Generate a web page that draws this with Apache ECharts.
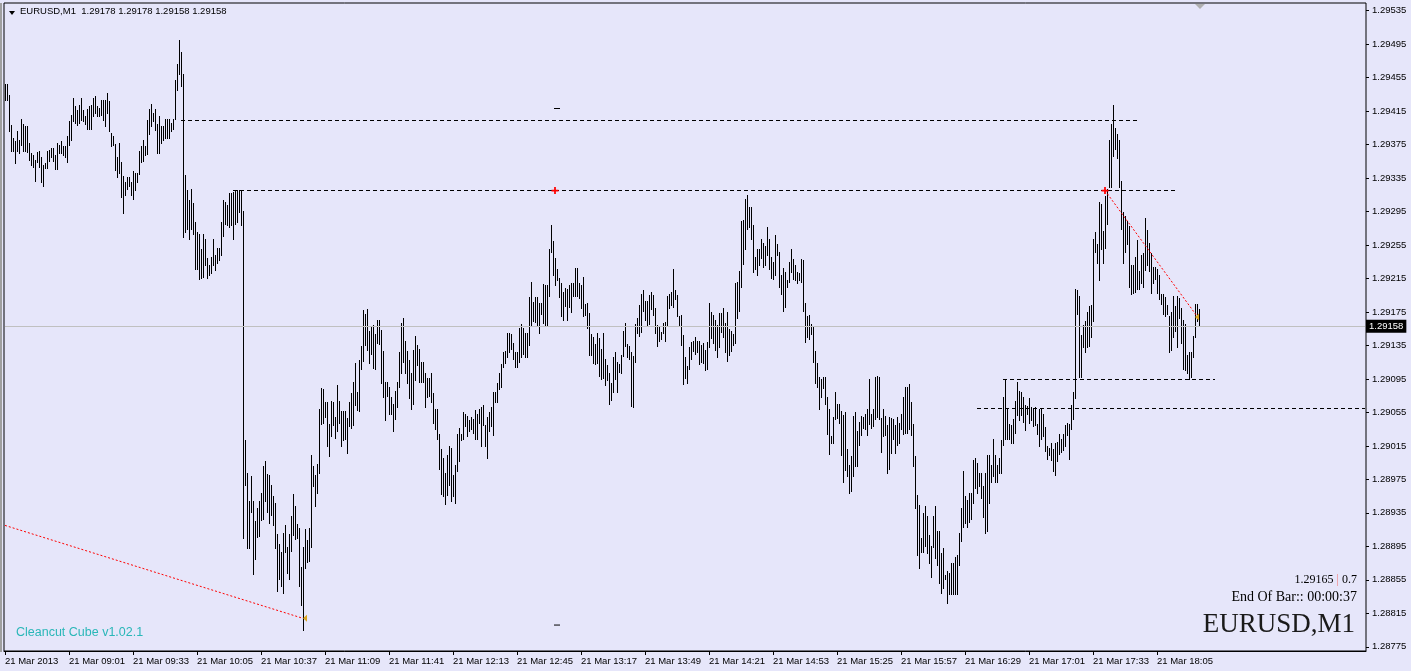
<!DOCTYPE html>
<html>
<head>
<meta charset="utf-8">
<title>EURUSD,M1</title>
<script src="https://cdn.jsdelivr.net/npm/echarts@6/dist/echarts.min.js"></script>
<style>
  html, body { margin: 0; padding: 0; background: #e6e6fa; }
  #chart { width: 1411px; height: 671px; }
</style>
</head>
<body>
<div id="chart"></div>
<script>
// one bar per minute, 21 Mar 2013 from 08:29
const highs = [
  1.29447,1.29447,1.29433,1.29398,1.29382,1.29379,1.29390,1.29380,1.29405,1.29399,1.29397,1.29397,1.29376,1.29364,1.29362,1.29356,1.29366,1.29367,1.29360,1.29350,
  1.29352,1.29367,1.29368,1.29370,1.29370,1.29362,1.29376,1.29374,1.29378,1.29372,1.29372,1.29384,1.29402,1.29410,1.29430,1.29420,1.29416,1.29422,1.29430,1.29416,
  1.29408,1.29417,1.29420,1.29421,1.29430,1.29432,1.29420,1.29418,1.29428,1.29428,1.29428,1.29436,1.29426,1.29388,1.29385,1.29375,1.29360,1.29376,1.29354,1.29337,
  1.29330,1.29336,1.29336,1.29330,1.29343,1.29340,1.29340,1.29367,1.29372,1.29380,1.29372,1.29404,1.29417,1.29423,1.29412,1.29417,1.29399,1.29408,1.29396,1.29397,
  1.29405,1.29405,1.29405,1.29400,1.29405,1.29452,1.29471,1.29499,1.29485,1.29459,1.29338,1.29320,1.29308,1.29321,1.29304,1.29282,1.29270,1.29268,1.29250,1.29267,
  1.29262,1.29239,1.29231,1.29240,1.29261,1.29243,1.29251,1.29251,1.29282,1.29308,1.29306,1.29302,1.29316,1.29316,1.29318,1.29320,1.29320,1.29320,1.29320,1.29295,
  1.29021,1.28982,1.28949,1.28979,1.28948,1.28925,1.28940,1.28949,1.28958,1.28990,1.28996,1.28981,1.28980,1.28968,1.28954,1.28946,1.28909,1.28897,1.28888,1.28910,
  1.28920,1.28894,1.28909,1.28931,1.28957,1.28943,1.28921,1.28916,1.28870,1.28894,1.28915,1.28902,1.28916,1.29003,1.28990,1.28980,1.28993,1.29059,1.29083,1.29082,
  1.29067,1.29067,1.29041,1.29068,1.29067,1.29049,1.29087,1.29068,1.29056,1.29056,1.29056,1.29048,1.29067,1.29077,1.29091,1.29113,1.29079,1.29117,1.29134,1.29177,
  1.29172,1.29178,1.29152,1.29157,1.29159,1.29148,1.29165,1.29165,1.29153,1.29128,1.29091,1.29091,1.29085,1.29073,1.29065,1.29080,1.29091,1.29127,1.29161,1.29167,
  1.29140,1.29128,1.29117,1.29101,1.29129,1.29146,1.29135,1.29130,1.29115,1.29115,1.29101,1.29096,1.29096,1.29101,1.29077,1.29059,1.29058,1.29029,1.29011,1.29000,
  1.28982,1.29004,1.29014,1.29012,1.28980,1.28992,1.29029,1.29036,1.29029,1.29055,1.29053,1.29050,1.29045,1.29049,1.29047,1.29057,1.29052,1.29059,1.29061,1.29063,
  1.29039,1.29049,1.29055,1.29061,1.29079,1.29079,1.29089,1.29101,1.29112,1.29126,1.29128,1.29149,1.29149,1.29148,1.29137,1.29126,1.29126,1.29155,1.29160,1.29155,
  1.29149,1.29149,1.29192,1.29210,1.29186,1.29192,1.29192,1.29185,1.29185,1.29208,1.29207,1.29207,1.29250,1.29278,1.29259,1.29239,1.29226,1.29215,1.29209,1.29198,
  1.29203,1.29202,1.29207,1.29209,1.29209,1.29227,1.29227,1.29209,1.29206,1.29216,1.29184,1.29185,1.29173,1.29148,1.29144,1.29136,1.29149,1.29143,1.29130,1.29149,
  1.29118,1.29111,1.29101,1.29089,1.29121,1.29126,1.29115,1.29112,1.29123,1.29152,1.29161,1.29136,1.29134,1.29126,1.29122,1.29160,1.29167,1.29183,1.29196,1.29201,
  1.29187,1.29187,1.29195,1.29198,1.29195,1.29179,1.29159,1.29158,1.29151,1.29161,1.29162,1.29194,1.29196,1.29198,1.29226,1.29201,1.29195,1.29170,1.29171,1.29147,
  1.29120,1.29110,1.29133,1.29139,1.29140,1.29144,1.29140,1.29140,1.29135,1.29137,1.29129,1.29139,1.29185,1.29174,1.29171,1.29165,1.29159,1.29173,1.29173,1.29179,
  1.29161,1.29174,1.29154,1.29152,1.29148,1.29209,1.29210,1.29223,1.29283,1.29284,1.29309,1.29314,1.29300,1.29300,1.29278,1.29240,1.29250,1.29249,1.29262,1.29257,
  1.29253,1.29276,1.29262,1.29240,1.29234,1.29266,1.29256,1.29246,1.29219,1.29227,1.29222,1.29212,1.29234,1.29249,1.29238,1.29231,1.29222,1.29221,1.29238,1.29237,
  1.29185,1.29170,1.29171,1.29160,1.29158,1.29128,1.29113,1.29097,1.29094,1.29097,1.29097,1.29073,1.29059,1.29026,1.29049,1.29079,1.29065,1.29065,1.29056,1.29051,
  1.29055,1.29011,1.28992,1.29002,1.29050,1.29055,1.29032,1.29043,1.29050,1.29049,1.29053,1.29058,1.29094,1.29053,1.29059,1.29097,1.29098,1.29097,1.29048,1.29058,
  1.29050,1.29039,1.29049,1.29048,1.29047,1.29039,1.29049,1.29042,1.29053,1.29073,1.29085,1.29085,1.29088,1.29067,1.29041,1.29002,1.28956,1.28944,1.28904,1.28934,
  1.28943,1.28931,1.28908,1.28895,1.28931,1.28943,1.28913,1.28913,1.28886,1.28892,1.28860,1.28865,1.28862,1.28874,1.28874,1.28882,1.28884,1.28910,1.28940,1.28985,
  1.28955,1.28950,1.28958,1.28958,1.28998,1.29000,1.28994,1.28982,1.28982,1.28967,1.28982,1.29003,1.29003,1.28992,1.29023,1.29004,1.28992,1.29000,1.29021,1.29073,
  1.29094,1.29058,1.29040,1.29039,1.29047,1.29068,1.29091,1.29080,1.29079,1.29073,1.29063,1.29062,1.29072,1.29061,1.29058,1.29061,1.29040,1.29058,1.29059,1.29053,
  1.29037,1.29014,1.29012,1.29018,1.29011,1.29018,1.29019,1.29029,1.29023,1.29029,1.29039,1.29042,1.29040,1.29063,1.29079,1.29202,1.29201,1.29194,1.29147,1.29159,
  1.29164,1.29174,1.29181,1.29183,1.29261,1.29270,1.29256,1.29306,1.29303,1.29271,1.29313,1.29321,1.29380,1.29399,1.29422,1.29394,1.29387,1.29380,1.29331,1.29294,
  1.29289,1.29283,1.29277,1.29231,1.29231,1.29240,1.29260,1.29223,1.29242,1.29245,1.29287,1.29272,1.29257,1.29245,1.29228,1.29228,1.29226,1.29219,1.29196,1.29196,
  1.29192,1.29183,1.29169,1.29174,1.29194,1.29181,1.29194,1.29191,1.29179,1.29165,1.29160,1.29123,1.29126,1.29126,1.29146,1.29184,1.29184,1.29178
];
const lows = [
  1.29428,1.29428,1.29390,1.29367,1.29367,1.29352,1.29367,1.29364,1.29374,1.29367,1.29367,1.29366,1.29356,1.29350,1.29348,1.29331,1.29354,1.29348,1.29330,1.29325,
  1.29346,1.29346,1.29355,1.29360,1.29355,1.29345,1.29345,1.29364,1.29364,1.29362,1.29360,1.29354,1.29374,1.29380,1.29402,1.29400,1.29398,1.29400,1.29404,1.29402,
  1.29399,1.29393,1.29393,1.29393,1.29408,1.29412,1.29408,1.29408,1.29410,1.29404,1.29396,1.29412,1.29390,1.29373,1.29374,1.29344,1.29336,1.29340,1.29312,1.29292,
  1.29314,1.29321,1.29325,1.29314,1.29309,1.29320,1.29330,1.29339,1.29354,1.29355,1.29362,1.29363,1.29387,1.29396,1.29402,1.29392,1.29364,1.29364,1.29376,1.29380,
  1.29382,1.29382,1.29382,1.29390,1.29393,1.29405,1.29440,1.29458,1.29444,1.29264,1.29270,1.29274,1.29261,1.29273,1.29268,1.29226,1.29226,1.29214,1.29215,1.29216,
  1.29231,1.29215,1.29219,1.29221,1.29230,1.29225,1.29233,1.29236,1.29242,1.29265,1.29280,1.29278,1.29276,1.29278,1.29261,1.29280,1.29282,1.29294,1.29278,1.28904,
  1.28968,1.28892,1.28892,1.28936,1.28861,1.28879,1.28906,1.28907,1.28926,1.28927,1.28948,1.28936,1.28922,1.28932,1.28920,1.28892,1.28841,1.28855,1.28847,1.28839,
  1.28888,1.28862,1.28855,1.28889,1.28908,1.28903,1.28904,1.28847,1.28824,1.28795,1.28868,1.28876,1.28877,1.28894,1.28966,1.28943,1.28958,1.28982,1.29040,1.29042,
  1.29049,1.29014,1.29002,1.29026,1.29039,1.29024,1.29032,1.29042,1.29014,1.29022,1.29023,1.29006,1.29038,1.29036,1.29039,1.29063,1.29057,1.29056,1.29106,1.29116,
  1.29135,1.29129,1.29113,1.29124,1.29107,1.29106,1.29137,1.29136,1.29089,1.29073,1.29045,1.29074,1.29053,1.29052,1.29032,1.29047,1.29061,1.29085,1.29101,1.29115,
  1.29101,1.29089,1.29072,1.29058,1.29065,1.29093,1.29111,1.29091,1.29091,1.29091,1.29061,1.29073,1.29074,1.29067,1.29042,1.29035,1.29023,1.28987,1.28957,1.28954,
  1.28945,1.28956,1.28968,1.28948,1.28955,1.28946,1.28984,1.28996,1.29022,1.29023,1.29038,1.29026,1.29032,1.29034,1.29030,1.29023,1.29023,1.29042,1.29014,1.29039,
  1.29014,1.29000,1.29032,1.29038,1.29027,1.29067,1.29067,1.29082,1.29085,1.29109,1.29113,1.29120,1.29126,1.29130,1.29118,1.29109,1.29109,1.29115,1.29121,1.29124,
  1.29120,1.29120,1.29135,1.29159,1.29164,1.29162,1.29158,1.29149,1.29172,1.29161,1.29157,1.29157,1.29194,1.29246,1.29218,1.29207,1.29213,1.29192,1.29170,1.29165,
  1.29181,1.29165,1.29180,1.29174,1.29194,1.29194,1.29194,1.29191,1.29179,1.29169,1.29171,1.29155,1.29123,1.29123,1.29113,1.29112,1.29113,1.29098,1.29094,1.29096,
  1.29087,1.29093,1.29065,1.29069,1.29079,1.29094,1.29079,1.29103,1.29101,1.29122,1.29134,1.29121,1.29118,1.29062,1.29061,1.29115,1.29149,1.29146,1.29151,1.29176,
  1.29165,1.29159,1.29160,1.29178,1.29171,1.29149,1.29134,1.29140,1.29142,1.29149,1.29140,1.29159,1.29179,1.29183,1.29180,1.29190,1.29170,1.29158,1.29135,1.29088,
  1.29096,1.29089,1.29106,1.29118,1.29128,1.29124,1.29127,1.29112,1.29115,1.29113,1.29105,1.29106,1.29132,1.29143,1.29137,1.29129,1.29121,1.29133,1.29151,1.29144,
  1.29126,1.29116,1.29123,1.29128,1.29135,1.29137,1.29167,1.29176,1.29204,1.29232,1.29250,1.29274,1.29276,1.29262,1.29222,1.29226,1.29219,1.29230,1.29239,1.29228,
  1.29231,1.29243,1.29226,1.29215,1.29214,1.29219,1.29243,1.29204,1.29196,1.29176,1.29180,1.29204,1.29210,1.29222,1.29214,1.29213,1.29209,1.29213,1.29210,1.29176,
  1.29139,1.29144,1.29142,1.29148,1.29115,1.29089,1.29085,1.29059,1.29073,1.29083,1.29065,1.29029,1.29005,1.29018,1.29018,1.29047,1.29048,1.29042,1.29003,1.28971,
  1.28986,1.28979,1.28958,1.28960,1.28979,1.28990,1.28990,1.29016,1.29027,1.29036,1.29035,1.29027,1.29040,1.29036,1.29038,1.29047,1.29049,1.29047,1.29007,1.29026,
  1.29027,1.28982,1.28987,1.29006,1.29023,1.29006,1.29015,1.29018,1.29035,1.29028,1.29030,1.29030,1.29035,1.29027,1.28990,1.28940,1.28884,1.28868,1.28888,1.28888,
  1.28895,1.28886,1.28874,1.28858,1.28894,1.28880,1.28872,1.28851,1.28839,1.28845,1.28856,1.28827,1.28837,1.28837,1.28837,1.28838,1.28837,1.28872,1.28901,1.28918,
  1.28922,1.28918,1.28924,1.28927,1.28946,1.28964,1.28958,1.28966,1.28952,1.28930,1.28910,1.28913,1.28946,1.28971,1.28979,1.28971,1.28971,1.28982,1.28982,1.29015,
  1.29023,1.29023,1.29023,1.29018,1.29018,1.29030,1.29051,1.29045,1.29051,1.29043,1.29033,1.29052,1.29042,1.29045,1.29038,1.29039,1.29029,1.29014,1.29023,1.29026,
  1.29008,1.28999,1.29003,1.28997,1.28984,1.28980,1.28996,1.29005,1.29007,1.29010,1.29014,1.29027,1.28999,1.29034,1.29046,1.29072,1.29172,1.29097,1.29097,1.29133,
  1.29127,1.29132,1.29134,1.29144,1.29164,1.29246,1.29233,1.29213,1.29250,1.29233,1.29251,1.29280,1.29324,1.29324,1.29361,1.29369,1.29358,1.29324,1.29273,1.29233,
  1.29246,1.29255,1.29204,1.29196,1.29197,1.29198,1.29202,1.29202,1.29209,1.29204,1.29225,1.29230,1.29223,1.29197,1.29209,1.29214,1.29197,1.29190,1.29184,1.29172,
  1.29170,1.29172,1.29127,1.29129,1.29144,1.29152,1.29133,1.29167,1.29137,1.29106,1.29105,1.29101,1.29094,1.29097,1.29120,1.29144,1.29164,1.29158
];

const yTicks = [
  1.28775, 1.28815, 1.28855, 1.28895, 1.28935, 1.28975, 1.29015, 1.29055, 1.29095, 1.29135,
  1.29175, 1.29215, 1.29255, 1.29295, 1.29335, 1.29375, 1.29415, 1.29455, 1.29495, 1.29535
];
const lastPrice = 1.29158;
const ohlc = [1.29178, 1.29178, 1.29158, 1.29158];

// horizontal levels: price, first and last bar index
const levelPrices = [1.29404, 1.29320, 1.29094, 1.29060];
const levelFrom = [87.5, 113.5, 498.5, 486];
const levelTo = [565.5, 586, 605, 680];

// red trend lines: [startIndex, startPrice, endIndex, endPrice]
const trends = [
  [-0.5, 1.28920, 149, 1.28809],
  [550, 1.29320, 596, 1.29170]
];
const arrowPoints = [[150.2, 1.28809], [596.3, 1.29169]];
const crossPoints = [[275, 1.29320], [550, 1.29320]];
const dashPoints = [[276, 1.29418], [276, 1.28801]];

// time slots: 08:29 onwards, the axis runs past the last bar
const slotCount = 681;
const startMinute = 8 * 60 + 29;
const times = [];
for (let i = 0; i < slotCount; i++) {
  const m = startMinute + i;
  const hh = String(Math.floor(m / 60)).padStart(2, '0');
  const mm = String(m % 60).padStart(2, '0');
  times.push(i === 0 ? '21 Mar 2013' : '21 Mar ' + hh + ':' + mm);
}

const chart = echarts.init(document.getElementById('chart'));
const sans = 'Liberation Sans, Arial, sans-serif';
const serif = 'Liberation Serif, Times New Roman, serif';
const showSlot = (idx) => idx % 32 === 0 && idx < highs.length;

const lineData = [];
// current price line with its black tag on the price scale
lineData.push([
  {
    coord: [0, lastPrice],
    lineStyle: { color: '#c0c0c0', type: 'solid', width: 1 },
    label: {
      show: true,
      position: 'end',
      distance: 1,
      formatter: () => lastPrice.toFixed(5),
      backgroundColor: '#000',
      color: '#fff',
      fontFamily: sans,
      fontSize: 9.5,
      padding: [2, 3, 1, 3]
    }
  },
  { coord: [slotCount - 1, lastPrice] }
]);
levelPrices.forEach((p, k) => {
  lineData.push([
    { coord: [levelFrom[k], p], lineStyle: { color: '#000', type: [4, 3], width: 1 } },
    { coord: [levelTo[k], p] }
  ]);
});
trends.forEach(t => {
  lineData.push([
    { coord: [t[0], t[1]], lineStyle: { color: '#ff0000', type: [2, 2], width: 1 } },
    { coord: [t[2], t[3]] }
  ]);
});

const pointData = [];
arrowPoints.forEach(p => pointData.push({
  coord: p, symbol: 'triangle', symbolRotate: 90, symbolSize: [7, 4],
  itemStyle: { color: '#daa520' }
}));
crossPoints.forEach(p => pointData.push({
  coord: p, symbol: 'path://M3,0H5V3H8V5H5V8H3V5H0V3H3Z', symbolSize: 7,
  itemStyle: { color: '#ff0000' }
}));
dashPoints.forEach(p => pointData.push({
  coord: p, symbol: 'rect', symbolSize: [6, 1],
  itemStyle: { color: '#000' }
}));

const option = {
  backgroundColor: '#e6e6fa',
  animation: false,
  title: {
    text: 'EURUSD,M1  ' + ohlc.map(v => v.toFixed(5)).join(' '),
    left: 20,
    top: 6,
    padding: 0,
    textStyle: { fontFamily: sans, fontSize: 9.5, fontWeight: 'normal', color: '#000' }
  },
  grid: {
    left: 4,
    right: 45,
    top: 3,
    bottom: 20,
    show: true,
    borderColor: '#000',
    borderWidth: 1,
    backgroundColor: 'transparent'
  },
  xAxis: {
    type: 'category',
    data: times,
    boundaryGap: true,
    axisLine: { show: true, lineStyle: { color: '#000' } },
    axisTick: { show: true, length: 4, interval: showSlot, alignWithLabel: true, lineStyle: { color: '#000' } },
    axisLabel: {
      interval: showSlot,
      align: 'left',
      margin: 5,
      color: '#000',
      fontFamily: sans,
      fontSize: 9.5
    },
    splitLine: { show: false }
  },
  yAxis: {
    type: 'value',
    position: 'right',
    min: 1.28770,
    max: 1.29544,
    axisLine: { show: false },
    axisTick: { show: true, length: 3, customValues: yTicks, lineStyle: { color: '#000' } },
    axisLabel: {
      customValues: yTicks,
      formatter: v => v.toFixed(5),
      margin: 6,
      color: '#000',
      fontFamily: sans,
      fontSize: 9.5
    },
    splitLine: { show: false }
  },
  graphic: [
    { type: 'rect', shape: { x: 0, y: 3, width: 2, height: 649 }, style: { fill: '#a0a0a0' } },
    { type: 'polygon', shape: { points: [[9, 11], [15, 11], [12, 15]] }, style: { fill: '#000' } },
    { type: 'polygon', shape: { points: [[1195, 4], [1205, 4], [1200, 9]] }, style: { fill: '#b0b0b0' } },
    {
      type: 'text', x: 1357, y: 580,
      style: {
        text: '{a|1.29165 }{b||}{a| 0.7}',
        align: 'right', verticalAlign: 'middle',
        rich: {
          a: { fontFamily: serif, fontSize: 12, fill: '#000' },
          b: { fontFamily: serif, fontSize: 12, fill: '#f08080' }
        }
      }
    },
    {
      type: 'text', x: 1357, y: 597,
      style: { text: 'End Of Bar:: 00:00:37', align: 'right', verticalAlign: 'middle', font: '14px ' + serif, fill: '#000' }
    },
    {
      type: 'text', x: 1355, y: 625,
      style: { text: 'EURUSD,M1', align: 'right', verticalAlign: 'middle', font: '27px ' + serif, fill: '#1a1a1a' }
    },
    {
      type: 'text', x: 16, y: 633,
      style: { text: 'Cleancut Cube v1.02.1', align: 'left', verticalAlign: 'middle', font: '12.5px ' + sans, fill: '#2ab7b8' }
    }
  ],
  series: [
    {
      type: 'custom',
      silent: true,
      clip: true,
      data: highs.map((h, i) => [i, h, lows[i]]),
      encode: { x: 0, y: [1, 2] },
      renderItem: (params, api) => {
        const top = api.coord([api.value(0), api.value(1)]);
        const bot = api.coord([api.value(0), api.value(2)]);
        const x = Math.round(top[0]);
        const y0 = Math.floor(top[1]);
        const y1 = Math.ceil(bot[1]);
        return {
          type: 'rect',
          shape: { x: x, y: y0, width: 1, height: Math.max(1, y1 - y0) },
          style: { fill: '#000' }
        };
      },
      markLine: {
        silent: true,
        symbol: 'none',
        label: { show: false },
        emphasis: { disabled: true },
        data: lineData
      },
      markPoint: {
        silent: true,
        label: { show: false },
        data: pointData
      }
    }
  ]
};

chart.setOption(option);
</script>
</body>
</html>
